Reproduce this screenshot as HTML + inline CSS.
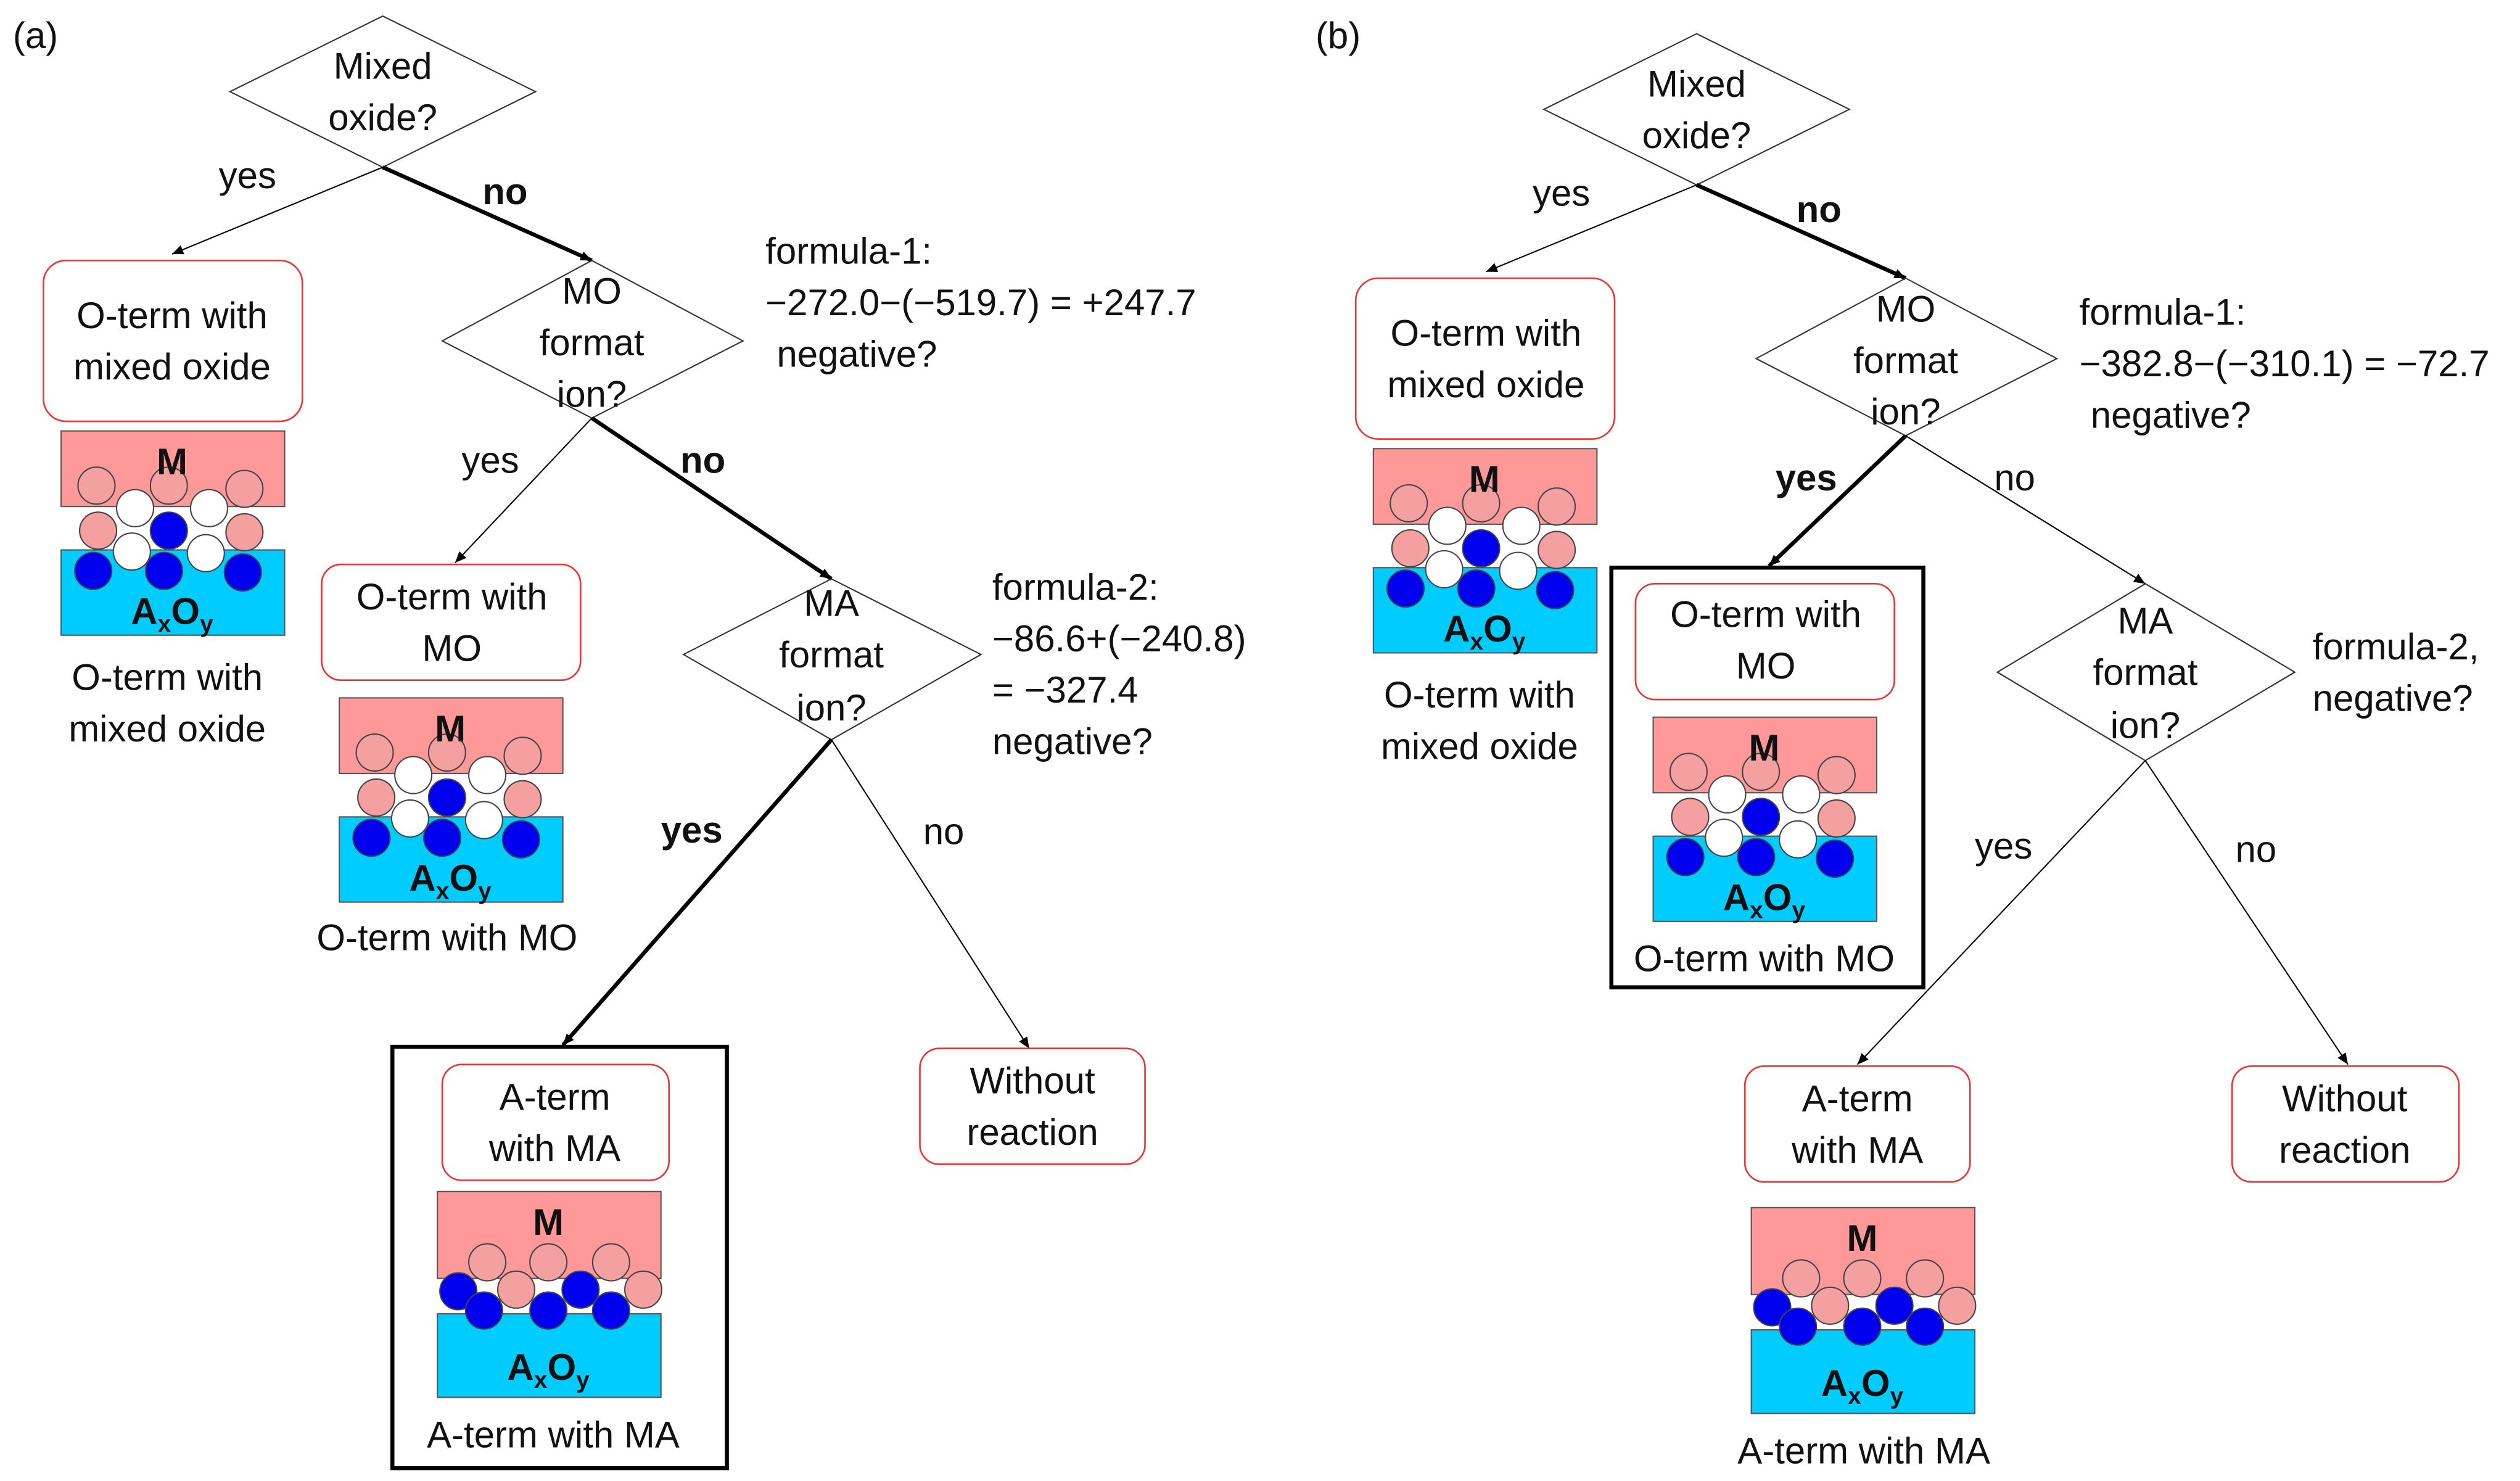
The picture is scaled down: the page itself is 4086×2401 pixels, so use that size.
<!DOCTYPE html>
<html><head><meta charset="utf-8"><style>
html,body{margin:0;padding:0;background:#fff}
svg{display:block}
text{font-family:"Liberation Sans",sans-serif;fill:#111}
</style></head><body>
<svg width="4086" height="2401" viewBox="0 0 1567 921" preserveAspectRatio="none" xmlns="http://www.w3.org/2000/svg">
<defs>
<marker id="ar" markerWidth="8" markerHeight="8" refX="7" refY="4" orient="auto" markerUnits="userSpaceOnUse">
<path d="M0,1 L7,4 L0,7 Z" fill="#000"/></marker>
<g id="ot">
<rect x="0" y="0" width="139" height="47" fill="#FF9999" stroke="#555" stroke-width="0.8"/>
<rect x="0" y="74" width="139" height="53" fill="#00CCFF" stroke="#555" stroke-width="0.8"/>
<g stroke="#444" stroke-width="0.8">
<circle cx="22" cy="34" r="11.5" fill="#F4A0A0"/><circle cx="67" cy="34" r="11.5" fill="#F4A0A0"/><circle cx="114" cy="36" r="11.5" fill="#F4A0A0"/>
<circle cx="23" cy="62" r="11.5" fill="#F4A0A0"/><circle cx="114" cy="63" r="11.5" fill="#F4A0A0"/><circle cx="67" cy="62" r="11.5" fill="#0000EE"/>
<circle cx="20" cy="87" r="11.5" fill="#0000EE"/><circle cx="64" cy="87" r="11.5" fill="#0000EE"/><circle cx="113" cy="88" r="11.5" fill="#0000EE"/>
<circle cx="46" cy="48" r="11.5" fill="#fff"/><circle cx="92" cy="48" r="11.5" fill="#fff"/>
<circle cx="44" cy="75" r="11.5" fill="#fff"/><circle cx="90" cy="76" r="11.5" fill="#fff"/>
</g>
<text x="69" y="27" font-size="23" font-weight="bold" text-anchor="middle">M</text>
<text x="69" y="120" font-size="23" font-weight="bold" text-anchor="middle">A<tspan font-size="15" dy="5">x</tspan><tspan dy="-5">O</tspan><tspan font-size="15" dy="5">y</tspan></text>
</g>
<g id="ma">
<rect x="0" y="0" width="139" height="54" fill="#FF9999" stroke="#555" stroke-width="0.8"/>
<rect x="0" y="76" width="139" height="52" fill="#00CCFF" stroke="#555" stroke-width="0.8"/>
<g stroke="#444" stroke-width="0.8">
<circle cx="31" cy="44" r="11.5" fill="#F4A0A0"/><circle cx="69" cy="44" r="11.5" fill="#F4A0A0"/><circle cx="108" cy="44" r="11.5" fill="#F4A0A0"/>
<circle cx="13" cy="62" r="11.5" fill="#0000EE"/><circle cx="49" cy="61" r="11.5" fill="#F4A0A0"/><circle cx="89" cy="61" r="11.5" fill="#0000EE"/><circle cx="128" cy="61" r="11.5" fill="#F4A0A0"/>
<circle cx="29" cy="74" r="11.5" fill="#0000EE"/><circle cx="69" cy="74" r="11.5" fill="#0000EE"/><circle cx="108" cy="74" r="11.5" fill="#0000EE"/>
</g>
<text x="69" y="27" font-size="23" font-weight="bold" text-anchor="middle">M</text>
<text x="69" y="117" font-size="23" font-weight="bold" text-anchor="middle">A<tspan font-size="15" dy="5">x</tspan><tspan dy="-5">O</tspan><tspan font-size="15" dy="5">y</tspan></text>
</g>
</defs>

<g font-size="23">
<!-- PANEL A -->
<text x="8" y="30">(a)</text>
<polygon points="238,10 333,57 238,104 143,57" fill="none" stroke="#333" stroke-width="0.8"/>
<text x="238" y="49" text-anchor="middle">Mixed</text><text x="238" y="81" text-anchor="middle">oxide?</text>
<line x1="238" y1="104" x2="107" y2="158" stroke="#000" stroke-width="0.8" marker-end="url(#ar)"/>
<text x="136" y="117">yes</text>
<line x1="238" y1="104" x2="368" y2="162" stroke="#000" stroke-width="2.5" marker-end="url(#ar)"/>
<text x="300" y="127" font-weight="bold">no</text>
<rect x="27" y="162" width="161" height="100" rx="14" fill="none" stroke="#E33" stroke-width="1"/>
<text x="107" y="204" text-anchor="middle">O-term with</text><text x="107" y="236" text-anchor="middle">mixed oxide</text>
<use href="#ot" x="38" y="268"/>
<text x="104" y="429" text-anchor="middle">O-term with</text><text x="104" y="461" text-anchor="middle">mixed oxide</text>

<polygon points="368,162 462,212 368,260 275,212" fill="none" stroke="#333" stroke-width="0.8"/>
<text x="368" y="189" text-anchor="middle">MO</text><text x="368" y="221" text-anchor="middle">format</text><text x="368" y="253" text-anchor="middle">ion?</text>
<text x="476" y="164">formula-1:</text>
<text x="476" y="196">−272.0−(−519.7) = +247.7</text>
<text x="483" y="228">negative?</text>
<line x1="368" y1="260" x2="283" y2="350" stroke="#000" stroke-width="0.8" marker-end="url(#ar)"/>
<text x="287" y="294">yes</text>
<line x1="368" y1="260" x2="517" y2="360" stroke="#000" stroke-width="2.5" marker-end="url(#ar)"/>
<text x="423" y="294" font-weight="bold">no</text>
<rect x="200" y="351" width="161" height="72" rx="12" fill="none" stroke="#E33" stroke-width="1"/>
<text x="281" y="379" text-anchor="middle">O-term with</text><text x="281" y="411" text-anchor="middle">MO</text>
<use href="#ot" x="211" y="434"/>
<text x="278" y="591" text-anchor="middle">O-term with MO</text>

<polygon points="517,360 610,407 517,460 425,407" fill="none" stroke="#333" stroke-width="0.8"/>
<text x="517" y="383" text-anchor="middle">MA</text><text x="517" y="415" text-anchor="middle">format</text><text x="517" y="448" text-anchor="middle">ion?</text>
<text x="617" y="373">formula-2:</text>
<text x="617" y="405">−86.6+(−240.8)</text>
<text x="617" y="437">= −327.4</text>
<text x="617" y="469">negative?</text>
<line x1="517" y1="460" x2="350" y2="650" stroke="#000" stroke-width="2.5" marker-end="url(#ar)"/>
<text x="411" y="524" font-weight="bold">yes</text>
<line x1="517" y1="460" x2="640" y2="652" stroke="#000" stroke-width="0.8" marker-end="url(#ar)"/>
<text x="574" y="525">no</text>
<rect x="244" y="651" width="208" height="262" fill="none" stroke="#000" stroke-width="2.5"/>
<rect x="275" y="662" width="141" height="72" rx="12" fill="none" stroke="#E33" stroke-width="1"/>
<text x="345" y="690" text-anchor="middle">A-term</text><text x="345" y="722" text-anchor="middle">with MA</text>
<use href="#ma" x="272" y="741"/>
<text x="344" y="900" text-anchor="middle">A-term with MA</text>
<rect x="572" y="652" width="140" height="72" rx="12" fill="none" stroke="#E33" stroke-width="1"/>
<text x="642" y="680" text-anchor="middle">Without</text><text x="642" y="712" text-anchor="middle">reaction</text>

<!-- PANEL B -->
<text x="818" y="30">(b)</text>
<polygon points="1055,21 1150,68 1055,115 960,68" fill="none" stroke="#333" stroke-width="0.8"/>
<text x="1055" y="60" text-anchor="middle">Mixed</text><text x="1055" y="92" text-anchor="middle">oxide?</text>
<line x1="1055" y1="115" x2="924" y2="169" stroke="#000" stroke-width="0.8" marker-end="url(#ar)"/>
<text x="953" y="128">yes</text>
<line x1="1055" y1="115" x2="1185" y2="173" stroke="#000" stroke-width="2.5" marker-end="url(#ar)"/>
<text x="1117" y="138" font-weight="bold">no</text>
<rect x="843" y="173" width="161" height="100" rx="14" fill="none" stroke="#E33" stroke-width="1"/>
<text x="924" y="215" text-anchor="middle">O-term with</text><text x="924" y="247" text-anchor="middle">mixed oxide</text>
<use href="#ot" x="854" y="279"/>
<text x="920" y="440" text-anchor="middle">O-term with</text><text x="920" y="472" text-anchor="middle">mixed oxide</text>

<polygon points="1185,173 1279,223 1185,271 1092,223" fill="none" stroke="#333" stroke-width="0.8"/>
<text x="1185" y="200" text-anchor="middle">MO</text><text x="1185" y="232" text-anchor="middle">format</text><text x="1185" y="264" text-anchor="middle">ion?</text>
<text x="1293" y="202">formula-1:</text>
<text x="1293" y="234">−382.8−(−310.1) = −72.7</text>
<text x="1300" y="266">negative?</text>
<line x1="1185" y1="271" x2="1100" y2="352" stroke="#000" stroke-width="2.5" marker-end="url(#ar)"/>
<text x="1104" y="305" font-weight="bold">yes</text>
<line x1="1185" y1="271" x2="1334" y2="363" stroke="#000" stroke-width="0.8" marker-end="url(#ar)"/>
<text x="1240" y="305">no</text>
<rect x="1002" y="353" width="194" height="261" fill="none" stroke="#000" stroke-width="2.5"/>
<rect x="1017" y="363" width="161" height="72" rx="12" fill="none" stroke="#E33" stroke-width="1"/>
<text x="1098" y="390" text-anchor="middle">O-term with</text><text x="1098" y="422" text-anchor="middle">MO</text>
<use href="#ot" x="1028" y="446"/>
<text x="1097" y="604" text-anchor="middle">O-term with MO</text>

<polygon points="1334,363 1427,418 1334,473 1242,418" fill="none" stroke="#333" stroke-width="0.8"/>
<text x="1334" y="394" text-anchor="middle">MA</text><text x="1334" y="426" text-anchor="middle">format</text><text x="1334" y="459" text-anchor="middle">ion?</text>
<text x="1438" y="410">formula-2,</text>
<text x="1438" y="442">negative?</text>
<line x1="1334" y1="473" x2="1155" y2="662" stroke="#000" stroke-width="0.8" marker-end="url(#ar)"/>
<text x="1228" y="534">yes</text>
<line x1="1334" y1="473" x2="1460" y2="662" stroke="#000" stroke-width="0.8" marker-end="url(#ar)"/>
<text x="1390" y="536">no</text>
<rect x="1085" y="663" width="140" height="72" rx="12" fill="none" stroke="#E33" stroke-width="1"/>
<text x="1155" y="691" text-anchor="middle">A-term</text><text x="1155" y="723" text-anchor="middle">with MA</text>
<use href="#ma" x="1089" y="751"/>
<text x="1159" y="910" text-anchor="middle">A-term with MA</text>
<rect x="1388" y="663" width="141" height="72" rx="12" fill="none" stroke="#E33" stroke-width="1"/>
<text x="1458" y="691" text-anchor="middle">Without</text><text x="1458" y="723" text-anchor="middle">reaction</text>
</g>
</svg>
</body></html>
